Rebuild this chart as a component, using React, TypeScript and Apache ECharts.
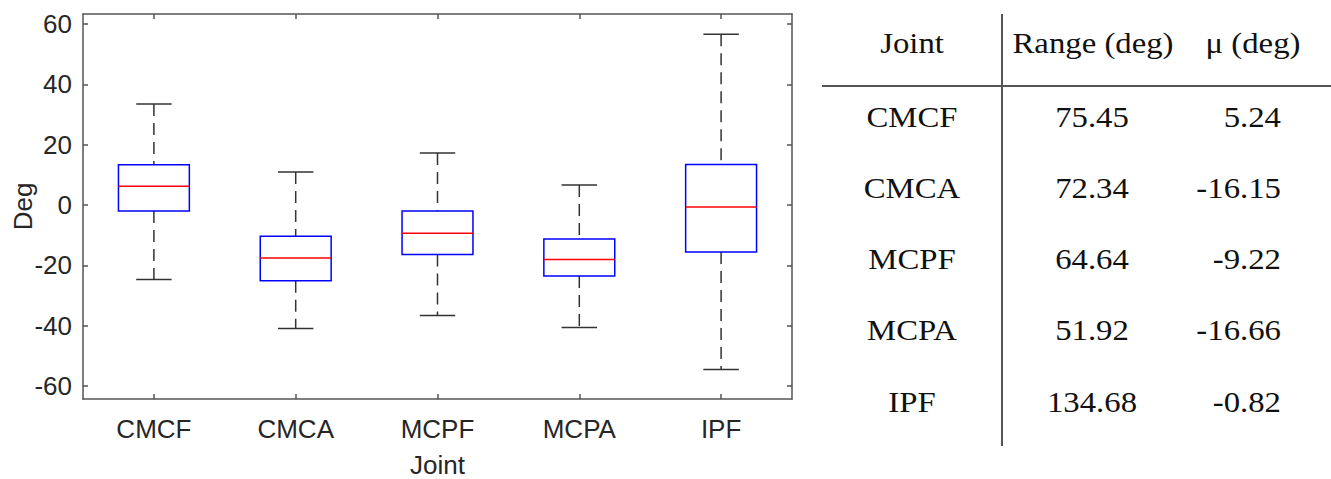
import React, { useEffect, useRef } from "react";
import * as echarts from "echarts";

const categories = ["CMCF", "CMCA", "MCPF", "MCPA", "IPF"];
const lowerWhisker = [-24.7, -40.9, -36.6, -40.6, -54.5];
const q1 = [-2.0, -25.1, -16.4, -23.5, -15.6];
const median = [6.2, -17.6, -9.4, -18.1, -0.7];
const q3 = [13.3, -10.4, -2.0, -11.3, 13.4];
const upperWhisker = [33.5, 10.9, 17.2, 6.6, 56.6];
const yTicks = [-60, -40, -20, 0, 20, 40, 60];
const yMin = -64.3;
const yMax = 63.3;

const tableHeader = ["Joint", "Range (deg)", "μ (deg)"];
const tableJoints = ["CMCF", "CMCA", "MCPF", "MCPA", "IPF"];
const tableRange = ["75.45", "72.34", "64.64", "51.92", "134.68"];
const tableMean = ["5.24", "-16.15", "-9.22", "-16.66", "-0.82"];

const SANS = "'Liberation Sans', Arial, Helvetica, sans-serif";
const SERIF = "'Liberation Serif', 'Times New Roman', serif";
const FRAME = "#555555";
const TEXT = "#262626";

export default function App() {
  const ref = useRef<HTMLDivElement>(null);
  useEffect(() => {
    document.body.style.margin = "0";
    const chart = echarts.init(ref.current!, null, { renderer: "svg" });

    const boxData = categories.map((_, i) => [
      i,
      lowerWhisker[i],
      q1[i],
      median[i],
      q3[i],
      upperWhisker[i],
    ]);

    const renderItem = (params: any, api: any) => {
      const idx = api.value(0);
      const lo = api.coord([idx, api.value(1)]);
      const b1 = api.coord([idx, api.value(2)]);
      const md = api.coord([idx, api.value(3)]);
      const b3 = api.coord([idx, api.value(4)]);
      const hi = api.coord([idx, api.value(5)]);
      const band = api.size([1, 0])[0];
      const boxW = band * 0.5;
      const capW = band * 0.25;
      const cx = lo[0];
      const whiskerStyle = { stroke: "#333333", lineWidth: 1.5, lineDash: [12, 7], fill: null };
      const capStyle = { stroke: "#333333", lineWidth: 1.5, fill: null };
      return {
        type: "group",
        children: [
          { type: "line", shape: { x1: cx, y1: hi[1], x2: cx, y2: b3[1] }, style: whiskerStyle },
          { type: "line", shape: { x1: cx, y1: b1[1], x2: cx, y2: lo[1] }, style: whiskerStyle },
          { type: "line", shape: { x1: cx - capW / 2, y1: hi[1], x2: cx + capW / 2, y2: hi[1] }, style: capStyle },
          { type: "line", shape: { x1: cx - capW / 2, y1: lo[1], x2: cx + capW / 2, y2: lo[1] }, style: capStyle },
          {
            type: "rect",
            shape: { x: cx - boxW / 2, y: b3[1], width: boxW, height: b1[1] - b3[1] },
            style: { stroke: "#0000ff", lineWidth: 1.5, fill: "rgba(0,0,0,0)" },
          },
          {
            type: "line",
            shape: { x1: cx - boxW / 2, y1: md[1], x2: cx + boxW / 2, y2: md[1] },
            style: { stroke: "#ff0000", lineWidth: 1.5 },
          },
        ],
      };
    };

    const headerX = [912, 1093, 1253];
    const headerY = 43;
    const rowY0 = 117;
    const rowStep = 71.2;
    const tFont = `29px ${SERIF}`;
    const sx = 1.13;
    const graphics: any[] = [
      { type: "line", shape: { x1: 1002, y1: 14, x2: 1002, y2: 446 }, style: { stroke: "#555555", lineWidth: 2 } },
      { type: "line", shape: { x1: 822, y1: 86, x2: 1331, y2: 86 }, style: { stroke: "#555555", lineWidth: 2 } },
    ];
    tableHeader.forEach((h, i) => {
      graphics.push({
        type: "text",
        x: headerX[i],
        y: headerY,
        scaleX: sx,
        style: { text: h, fill: "#111", font: tFont, align: "center", verticalAlign: "middle" },
      });
    });
    tableJoints.forEach((j, i) => {
      const y = rowY0 + i * rowStep;
      graphics.push({
        type: "text",
        x: 912,
        y,
        scaleX: sx,
        style: { text: j, fill: "#111", font: tFont, align: "center", verticalAlign: "middle" },
      });
      graphics.push({
        type: "text",
        x: 1092,
        y,
        scaleX: sx,
        style: { text: tableRange[i], fill: "#111", font: tFont, align: "center", verticalAlign: "middle" },
      });
      graphics.push({
        type: "text",
        x: 1281,
        y,
        scaleX: sx,
        style: { text: tableMean[i], fill: "#111", font: tFont, align: "right", verticalAlign: "middle" },
      });
    });

    const axisLine = { show: true, onZero: false, lineStyle: { color: FRAME, width: 1.5 } };
    const tick = { show: true, inside: true, length: 5, lineStyle: { color: FRAME, width: 1.5 } };

    chart.setOption({
      animation: false,
      backgroundColor: "#ffffff",
      grid: { left: 83, top: 14, width: 709, height: 385, containLabel: false, outerBoundsMode: "none" },
      xAxis: [
        {
          type: "category",
          data: categories,
          position: "bottom",
          boundaryGap: true,
          axisLine,
          axisTick: { ...tick, alignWithLabel: true },
          axisLabel: { fontSize: 26, color: TEXT, fontFamily: SANS, margin: 17 },
          splitLine: { show: false },
          name: "Joint",
          nameLocation: "middle",
          nameGap: 53,
          nameMoveOverlap: false,
          nameTextStyle: { fontSize: 26, color: TEXT, fontFamily: SANS },
        },
        {
          type: "category",
          data: categories,
          position: "top",
          boundaryGap: true,
          axisLine,
          axisTick: { ...tick, alignWithLabel: true },
          axisLabel: { show: false },
          splitLine: { show: false },
        },
      ],
      yAxis: [
        {
          type: "value",
          min: yMin,
          max: yMax,
          position: "left",
          axisLine,
          axisTick: { ...tick, customValues: yTicks },
          axisLabel: { fontSize: 26, color: TEXT, fontFamily: SANS, margin: 11, customValues: yTicks },
          splitLine: { show: false },
          name: "Deg",
          nameLocation: "middle",
          nameGap: 47,
          nameMoveOverlap: false,
          nameTextStyle: { fontSize: 26, color: TEXT, fontFamily: SANS },
        },
        {
          type: "value",
          min: yMin,
          max: yMax,
          position: "right",
          axisLine,
          axisTick: { ...tick, customValues: yTicks },
          axisLabel: { show: false },
          splitLine: { show: false },
        },
      ],
      series: [
        {
          type: "custom",
          name: "Joint angles",
          xAxisIndex: 0,
          yAxisIndex: 0,
          data: boxData,
          encode: { x: 0, y: [1, 2, 3, 4, 5] },
          renderItem,
        },
      ],
      graphic: graphics,
    });
    return () => chart.dispose();
  }, []);
  return <div ref={ref} style={{ width: 1331, height: 479 }} />;
}
